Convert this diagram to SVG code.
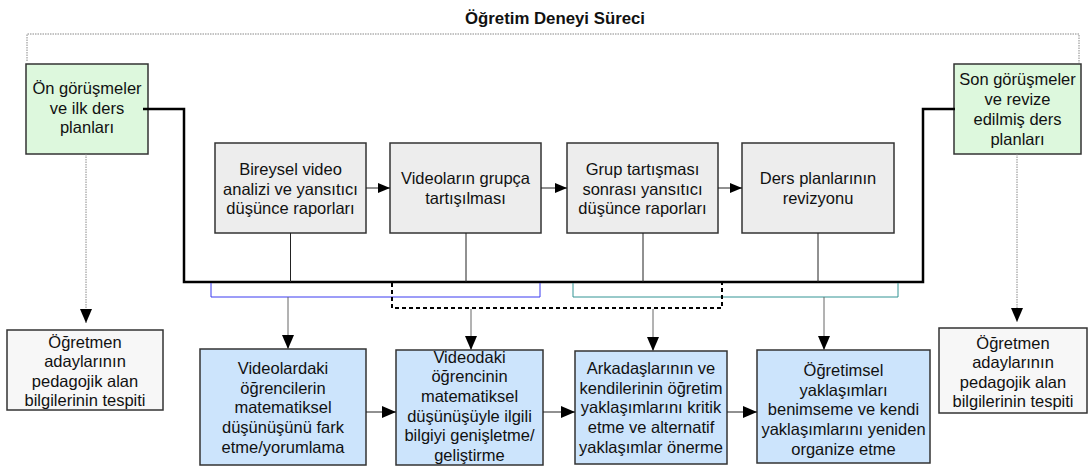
<svg xmlns="http://www.w3.org/2000/svg" width="1088" height="466" viewBox="0 0 1088 466">
  <style>
    text { font-family: "Liberation Sans", Arial, sans-serif; font-size: 16.5px; fill: #111; text-anchor: middle; }
    .title { font-weight: bold; font-size: 16.8px; }
    .box { stroke: #333; stroke-width: 1.5; }
    .green { fill: #ddf8dd; }
    .gray { fill: #ededed; }
    .white { fill: #f7f7f7; }
    .blue { fill: #cce4fc; }
    .thin { fill: none; stroke: #222; stroke-width: 1; }
    .feed { fill: none; stroke: #666; stroke-width: 1; }
    .dot { fill: none; stroke: #888; stroke-width: 1; stroke-dasharray: 1.5 1; }
    .main { fill: none; stroke: #000; stroke-width: 2.5; }
  </style>
  <defs>
    <marker id="ah" markerUnits="userSpaceOnUse" markerWidth="13" markerHeight="10" refX="12" refY="5" orient="auto">
      <path d="M0,0 L12,5 L0,10 Z" fill="#000"/>
    </marker>
    <marker id="ahd" markerUnits="userSpaceOnUse" markerWidth="15" markerHeight="12" refX="14" refY="6" orient="auto">
      <path d="M0,0 L14,6 L0,12 Z" fill="#000"/>
    </marker>
  </defs>

  <rect width="1088" height="466" fill="#fff"/>

  <text class="title" x="555" y="24">Öğretim Deneyi Süreci</text>

  <!-- upper row: interviews and lesson cycle -->
  <g id="pre-interviews">
    <rect class="box green" x="26" y="64" width="122" height="90"/>
    <text x="87" y="94">Ön görüşmeler</text>
    <text x="87" y="114">ve ilk ders</text>
    <text x="87" y="133">planları</text>
  </g>
  <g id="individual-analysis">
    <rect class="box gray" x="215" y="143" width="151" height="90"/>
    <text x="290.5" y="175">Bireysel video</text>
    <text x="290.5" y="195">analizi ve yansıtıcı</text>
    <text x="290.5" y="214">düşünce raporları</text>
  </g>
  <g id="group-discussion">
    <rect class="box gray" x="390" y="143" width="151" height="90"/>
    <text x="465.5" y="184">Videoların grupça</text>
    <text x="465.5" y="204">tartışılması</text>
  </g>
  <g id="post-group-reports">
    <rect class="box gray" x="567" y="143" width="151" height="90"/>
    <text x="642.5" y="175">Grup tartışması</text>
    <text x="642.5" y="195">sonrası yansıtıcı</text>
    <text x="642.5" y="214">düşünce raporları</text>
  </g>
  <g id="plan-revision">
    <rect class="box gray" x="742" y="143" width="152" height="90"/>
    <text x="818" y="184">Ders planlarının</text>
    <text x="818" y="204">revizyonu</text>
  </g>
  <g id="post-interviews">
    <rect class="box green" x="954" y="64" width="127" height="90"/>
    <text x="1017.5" y="85">Son görüşmeler</text>
    <text x="1017.5" y="105">ve revize</text>
    <text x="1017.5" y="125">edilmiş ders</text>
    <text x="1017.5" y="145">planları</text>
  </g>

  <!-- side outcomes -->
  <g id="knowledge-pre">
    <rect class="box white" x="7" y="330" width="156" height="80"/>
    <text x="85" y="348">Öğretmen</text>
    <text x="85" y="367">adaylarının</text>
    <text x="85" y="387">pedagojik alan</text>
    <text x="85" y="406">bilgilerinin tespiti</text>
  </g>
  <g id="knowledge-post">
    <rect class="box white" x="939" y="328" width="148" height="85"/>
    <text x="1013" y="349">Öğretmen</text>
    <text x="1013" y="368">adaylarının</text>
    <text x="1013" y="388">pedagojik alan</text>
    <text x="1013" y="407">bilgilerinin tespiti</text>
  </g>

  <!-- lower row: noticing and development stages -->
  <g id="noticing">
    <rect class="box blue" x="200" y="349" width="166" height="116"/>
    <text x="283" y="374">Videolardaki</text>
    <text x="283" y="394">öğrencilerin</text>
    <text x="283" y="413">matematiksel</text>
    <text x="283" y="433">düşünüşünü fark</text>
    <text x="283" y="453">etme/yorumlama</text>
  </g>
  <g id="extending">
    <rect class="box blue" x="396" y="350" width="147" height="115"/>
    <text x="469.5" y="363">Videodaki</text>
    <text x="469.5" y="382">öğrencinin</text>
    <text x="469.5" y="402">matematiksel</text>
    <text x="469.5" y="422">düşünüşüyle ilgili</text>
    <text x="469.5" y="441">bilgiyi genişletme/</text>
    <text x="469.5" y="461">geliştirme</text>
  </g>
  <g id="critiquing">
    <rect class="box blue" x="575" y="351" width="152" height="113"/>
    <text x="651" y="374">Arkadaşlarının ve</text>
    <text x="651" y="394">kendilerinin öğretim</text>
    <text x="651" y="413">yaklaşımlarını kritik</text>
    <text x="651" y="433">etme ve alternatif</text>
    <text x="651" y="453">yaklaşımlar önerme</text>
  </g>
  <g id="reorganizing">
    <rect class="box blue" x="757" y="350" width="173" height="113"/>
    <text x="843.5" y="376">Öğretimsel</text>
    <text x="843.5" y="396">yaklaşımları</text>
    <text x="843.5" y="415">benimseme ve kendi</text>
    <text x="843.5" y="435">yaklaşımlarını yeniden</text>
    <text x="843.5" y="455">organize etme</text>
  </g>

  <g id="connectors">
    <!-- process frame -->
    <path class="dot" d="M27,61 V34 H1079 V63"/>
    <!-- main cycle line -->
    <path class="main" d="M143,109 H184 V282 H923 V109 H955"/>
    <!-- upper row sequence -->
    <line class="thin" x1="366" y1="188" x2="390" y2="188" marker-end="url(#ah)"/>
    <line class="thin" x1="541" y1="188" x2="567" y2="188" marker-end="url(#ah)"/>
    <line class="thin" x1="718" y1="188" x2="742" y2="188" marker-end="url(#ah)"/>
    <!-- drops to the main line -->
    <line class="thin" x1="290.5" y1="233" x2="290.5" y2="282"/>
    <line class="thin" x1="466" y1="233" x2="466" y2="282"/>
    <line class="thin" x1="643" y1="233" x2="643" y2="282"/>
    <line class="thin" x1="818" y1="233" x2="818" y2="282"/>
    <!-- groupings below the main line -->
    <path fill="none" stroke="#3a3af0" stroke-width="1" d="M211,283 V297 H540 V283"/>
    <path fill="none" stroke="#339494" stroke-width="1" d="M573,283 V297 H898 V283"/>
    <path fill="none" stroke="#000" stroke-width="2" stroke-dasharray="4 3" d="M392,283 V308 H722 V283"/>
    <!-- arrows into the lower row -->
    <line class="feed" x1="288" y1="297" x2="288" y2="349" marker-end="url(#ahd)"/>
    <line class="feed" x1="471" y1="309" x2="471" y2="350" marker-end="url(#ahd)"/>
    <line class="feed" x1="653" y1="309" x2="653" y2="351" marker-end="url(#ahd)"/>
    <line class="feed" x1="824" y1="297" x2="824" y2="350" marker-end="url(#ahd)"/>
    <!-- lower row sequence -->
    <line class="thin" x1="366" y1="412" x2="396" y2="412" marker-end="url(#ahd)"/>
    <line class="thin" x1="543" y1="412" x2="575" y2="412" marker-end="url(#ahd)"/>
    <line class="thin" x1="727" y1="412" x2="757" y2="412" marker-end="url(#ahd)"/>
    <!-- interviews to knowledge assessments -->
    <line class="dot" x1="86" y1="154" x2="86" y2="323" stroke="#555" marker-end="url(#ahd)"/>
    <line class="dot" x1="1017" y1="154" x2="1017" y2="322" stroke="#555" marker-end="url(#ahd)"/>
  </g>
</svg>
